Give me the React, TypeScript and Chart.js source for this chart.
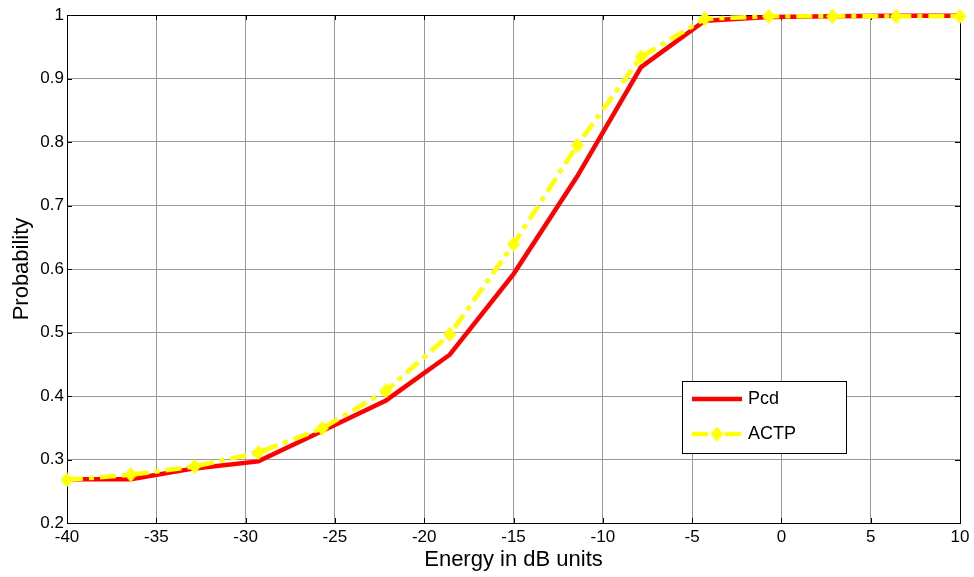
import { useEffect, useRef } from "react";
import { Chart, registerables } from "chart.js";

Chart.register(...registerables);

// ---- data ----
const energyDb = [-40, -36.43, -32.86, -29.29, -25.71, -22.14, -18.57, -15, -11.43, -7.86, -4.29, -0.71, 2.86, 6.43, 10];
const pcd = [0.269, 0.269, 0.286, 0.297, 0.345, 0.393, 0.465, 0.592, 0.746, 0.918, 0.991, 0.997, 0.998, 0.999, 0.999];
const actp = [0.268, 0.276, 0.289, 0.311, 0.349, 0.408, 0.497, 0.639, 0.795, 0.934, 0.994, 0.998, 0.998, 0.998, 0.998];
const xTicks = [-40, -35, -30, -25, -20, -15, -10, -5, 0, 5, 10];
const yTicks = [0.2, 0.3, 0.4, 0.5, 0.6, 0.7, 0.8, 0.9, 1];
const seriesNames = ["Pcd", "ACTP"];
const xTitle = "Energy in dB units";
const yTitle = "Probability";

const FONT = "'Liberation Sans', Arial, Helvetica, sans-serif";

function makeDiamond(w: number, h: number, color: string): HTMLCanvasElement {
  const c = document.createElement("canvas");
  c.width = w;
  c.height = h;
  const g = c.getContext("2d")!;
  g.fillStyle = color;
  g.beginPath();
  g.moveTo(w / 2, 0);
  g.lineTo(w, h / 2);
  g.lineTo(w / 2, h);
  g.lineTo(0, h / 2);
  g.closePath();
  g.fill();
  return c;
}

const boxPlugin = {
  id: "matlabBox",
  beforeDatasetsDraw(chart: any) {
    const { ctx, chartArea } = chart;
    const { left, right, top, bottom } = chartArea;
    const xs = chart.scales.x;
    const ys = chart.scales.y;
    const L = 5;
    ctx.save();
    ctx.strokeStyle = "#000";
    ctx.lineWidth = 1;
    ctx.beginPath();
    xs.ticks.forEach((t: any) => {
      const px = Math.round(xs.getPixelForValue(t.value)) + 0.5;
      ctx.moveTo(px, bottom);
      ctx.lineTo(px, bottom - L);
      ctx.moveTo(px, top);
      ctx.lineTo(px, top + L);
    });
    ys.ticks.forEach((t: any) => {
      const py = Math.round(ys.getPixelForValue(t.value)) + 0.5;
      ctx.moveTo(left, py);
      ctx.lineTo(left + L, py);
      ctx.moveTo(right, py);
      ctx.lineTo(right - L, py);
    });
    ctx.stroke();
    ctx.strokeRect(Math.round(left) + 0.5, Math.round(top) + 0.5, Math.round(right - left), Math.round(bottom - top));
    ctx.restore();
  },
};

const legendPlugin = {
  id: "boxLegend",
  afterDraw(chart: any, _args: any, opts: any) {
    const { ctx } = chart;
    const { x, y, w, h, rowGap, firstRow, sampleLen, textGap } = opts;
    ctx.save();
    ctx.fillStyle = "#fff";
    ctx.fillRect(x, y, w, h);
    ctx.strokeStyle = "#000";
    ctx.lineWidth = 1;
    ctx.strokeRect(x + 0.5, y + 0.5, w, h);
    const sx = x + 10;
    chart.data.datasets.forEach((ds: any, i: number) => {
      const ly = y + firstRow + i * rowGap;
      ctx.save();
      ctx.strokeStyle = ds.borderColor;
      ctx.lineWidth = ds.borderWidth;
      ctx.lineCap = "butt";
      ctx.setLineDash(ds.borderDash || []);
      ctx.beginPath();
      ctx.moveTo(sx, ly);
      ctx.lineTo(sx + sampleLen, ly);
      ctx.stroke();
      ctx.restore();
      if (ds.pointStyle && typeof ds.pointStyle === "object") {
        const img = ds.pointStyle as HTMLCanvasElement;
        ctx.drawImage(img, sx + sampleLen / 2 - img.width / 2, ly - img.height / 2);
      }
      ctx.fillStyle = "#000";
      ctx.font = `18px ${FONT}`;
      ctx.textBaseline = "middle";
      ctx.textAlign = "left";
      ctx.fillText(ds.label, sx + sampleLen + textGap, ly);
    });
    ctx.restore();
  },
};

export default function App() {
  const ref = useRef<HTMLCanvasElement | null>(null);

  useEffect(() => {
    document.body.style.margin = "0";
    if (!ref.current) return;
    const diamond = makeDiamond(13, 15, "#ffff00");
    const chart = new Chart(ref.current, {
      type: "line",
      data: {
        datasets: [
          {
            label: seriesNames[0],
            data: energyDb.map((e, i) => ({ x: e, y: pcd[i] })),
            borderColor: "#ff0000",
            backgroundColor: "#ff0000",
            borderWidth: 4.5,
            pointRadius: 0,
            tension: 0,
            fill: false,
            order: 2,
            clip: false as any,
          },
          {
            label: seriesNames[1],
            data: energyDb.map((e, i) => ({ x: e, y: actp[i] })),
            borderColor: "#ffff00",
            backgroundColor: "#ffff00",
            borderWidth: 4.5,
            borderDash: [16, 6, 5, 6],
            borderCapStyle: "butt",
            pointStyle: diamond as any,
            pointRadius: 6,
            tension: 0,
            fill: false,
            order: 1,
            clip: false as any,
          },
        ],
      },
      options: {
        responsive: false,
        animation: false,
        maintainAspectRatio: false,
        layout: { padding: { top: 15, right: 14, left: 0, bottom: 0 } },
        plugins: {
          legend: { display: false },
          tooltip: { enabled: false },
          boxLegend: { x: 682, y: 381, w: 164, h: 72, firstRow: 18, rowGap: 35, sampleLen: 50, textGap: 6 },
        } as any,
        scales: {
          x: {
            type: "linear",
            min: -40,
            max: 10,
            afterBuildTicks: (s: any) => {
              s.ticks = xTicks.map((v) => ({ value: v }));
            },
            afterFit: (s: any) => {
              s.height = 54;
            },
            grid: { color: "#999999", lineWidth: 1, drawTicks: false },
            border: { display: false },
            ticks: {
              color: "#000",
              font: { family: FONT, size: 17 },
              padding: 4,
              maxRotation: 0,
              autoSkip: false,
              callback: (v: any) => String(v),
            },
            title: {
              display: true,
              text: xTitle,
              color: "#000",
              font: { family: FONT, size: 22 },
              padding: { top: 0, bottom: 4 },
            },
          },
          y: {
            type: "linear",
            min: 0.2,
            max: 1,
            afterBuildTicks: (s: any) => {
              s.ticks = yTicks.map((v) => ({ value: v }));
            },
            afterFit: (s: any) => {
              s.width = 67;
            },
            grid: { color: "#999999", lineWidth: 1, drawTicks: false },
            border: { display: false },
            ticks: {
              color: "#000",
              font: { family: FONT, size: 17 },
              padding: 3,
              autoSkip: false,
              callback: (v: any) => String(Math.round(Number(v) * 10) / 10),
            },
            title: {
              display: true,
              text: yTitle,
              color: "#000",
              font: { family: FONT, size: 22 },
              padding: { top: 9, bottom: 0 },
            },
          },
        },
      },
      plugins: [boxPlugin, legendPlugin],
    });
    return () => chart.destroy();
  }, []);

  return (
    <div style={{ position: "fixed", left: 0, top: 0, width: 974, height: 577, background: "#fff" }}>
      <canvas ref={ref} width={974} height={577} style={{ width: 974, height: 577 }} />
    </div>
  );
}
